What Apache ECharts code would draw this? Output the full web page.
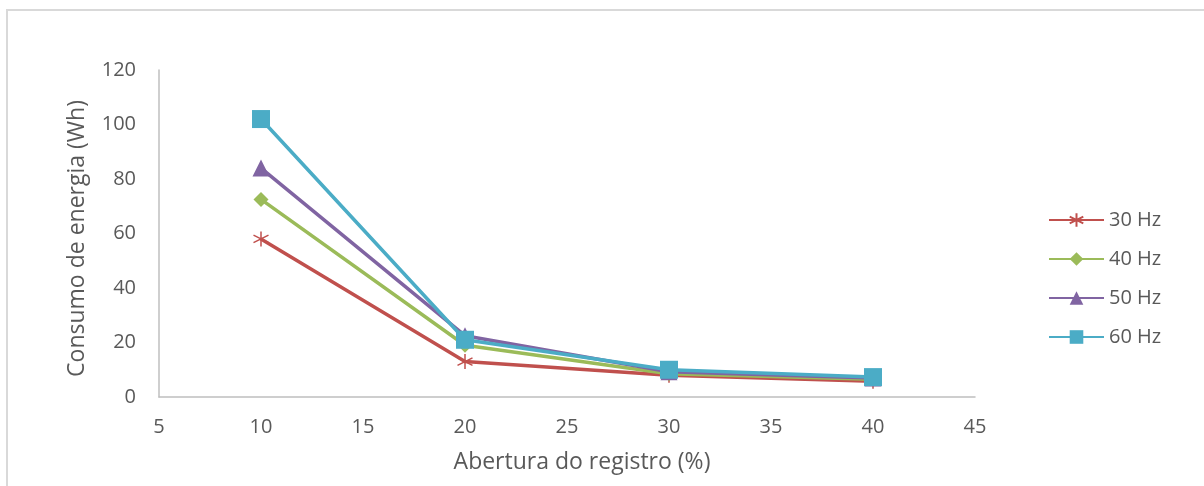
<!DOCTYPE html>
<html><head><meta charset="utf-8">
<script src="https://cdn.jsdelivr.net/npm/echarts@6/dist/echarts.min.js"></script>
<style>html,body{margin:0;padding:0;background:#fff}#c{width:1204px;height:486px}</style>
</head><body><div id="c"></div>
<script>
const xValues = [10, 20, 30, 40];
const seriesNames = ['30 Hz', '40 Hz', '50 Hz', '60 Hz'];
const s30 = [58, 13, 8, 5.8];
const s40 = [72.5, 19, 8.5, 6.5];
const s50 = [84, 22.5, 9.3, 7];
const s60 = [102, 21, 10, 7.3];
const xTicks = [5, 10, 15, 20, 25, 30, 35, 40, 45];
const yTicks = [0, 20, 40, 60, 80, 100, 120];

const colors = ['#C0504D', '#9BBB59', '#8064A2', '#4BACC6'];
const symbols = ['path://M0,-10L0,10M-8.7,-5L8.7,5M-8.7,5L8.7,-5', 'diamond', 'triangle', 'rect'];
const sizes = [15, 15, 17, 18];
const allData = [s30, s40, s50, s60];
const font = '"Open Sans", sans-serif';

const chart = echarts.init(document.getElementById('c'));
chart.setOption({
  animation: false,
  graphic: [{type: 'rect', shape: {x: 7, y: 10, width: 1300, height: 600}, style: {fill: 'none', stroke: '#d9d9d9', lineWidth: 2}, silent: true}],
  grid: {left: 159, right: 229, top: 70, bottom: 89},
  legend: {
    orient: 'vertical', left: 1043, top: 205, itemWidth: 55, itemHeight: 17, itemGap: 19,
    data: seriesNames,
    textStyle: {fontFamily: font, fontSize: 20, color: '#595959'}
  },
  xAxis: {
    type: 'value', min: xTicks[0], max: xTicks[xTicks.length - 1], interval: 5,
    name: 'Abertura do registro (%)', nameLocation: 'middle', nameGap: 54,
    nameTextStyle: {fontFamily: font, fontSize: 23, color: '#595959', padding: [0, 0, 0, 30]},
    axisLine: {lineStyle: {color: '#bfbfbf', width: 1.5}},
    axisTick: {show: false},
    axisLabel: {fontFamily: font, fontSize: 20, color: '#595959', margin: 20},
    splitLine: {show: false}
  },
  yAxis: {
    type: 'value', min: yTicks[0], max: yTicks[yTicks.length - 1], interval: 20,
    name: 'Consumo de energia (Wh)', nameLocation: 'middle', nameGap: 70,
    nameTextStyle: {fontFamily: font, fontSize: 23, color: '#595959', padding: [0, 10, 0, 0]},
    axisLine: {show: true, lineStyle: {color: '#bfbfbf', width: 1.5}},
    axisTick: {show: false},
    axisLabel: {fontFamily: font, fontSize: 20, color: '#595959', margin: 23},
    splitLine: {show: false}
  },
  series: seriesNames.map((n, i) => ({
    name: n, type: 'line',
    data: xValues.map((x, j) => [x, allData[i][j]]),
    symbol: symbols[i], symbolSize: sizes[i], showSymbol: true,
    lineStyle: {color: colors[i], width: 3.5},
    itemStyle: {color: i === 0 ? 'none' : colors[i], borderColor: colors[i], borderWidth: i === 0 ? 1.5 : 0, opacity: 1}
  }))
});
</script></body></html>
